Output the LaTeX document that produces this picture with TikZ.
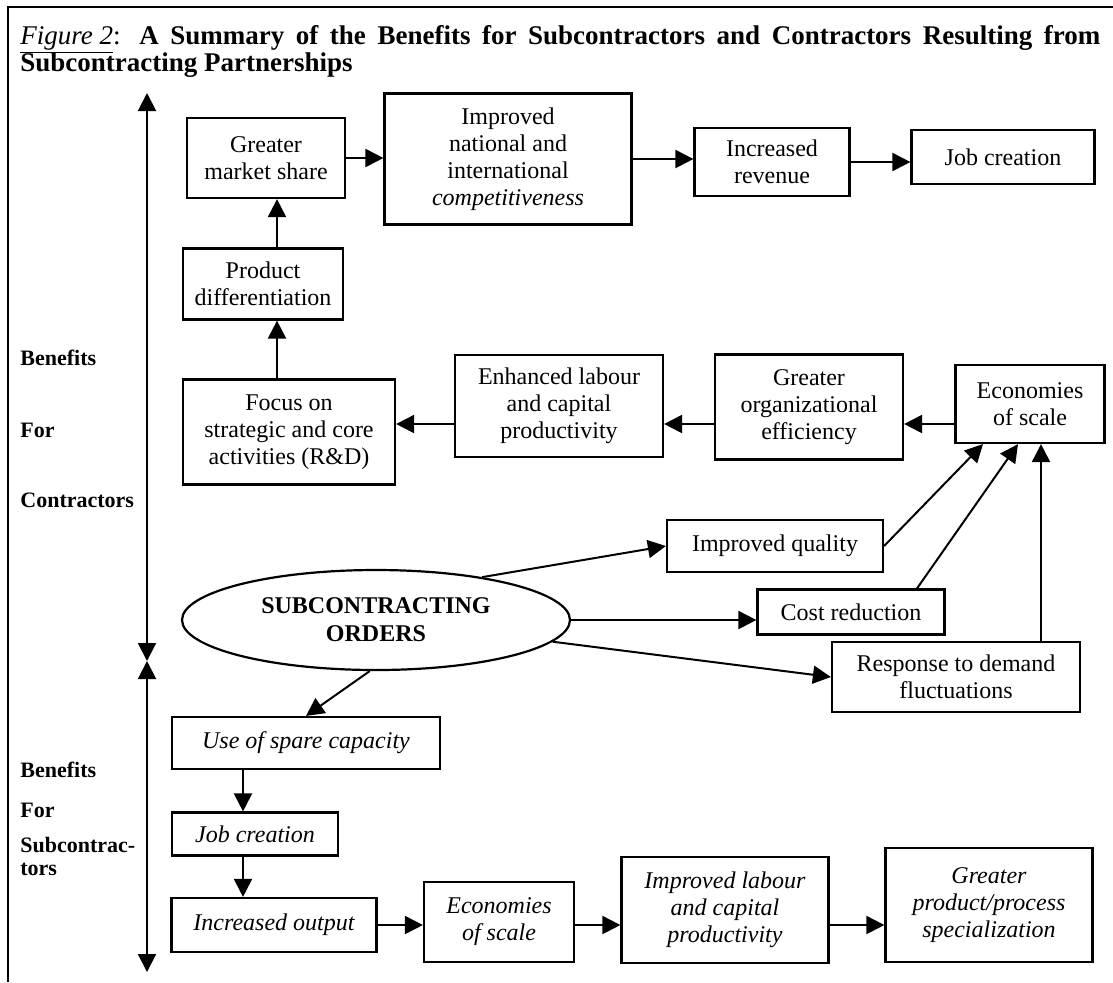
\documentclass[tikz,border=0pt]{standalone}
\usepackage{fontspec}
\setmainfont{Liberation Serif}
\usetikzlibrary{
  arrows.meta,
  positioning,
  calc,
  shapes.geometric
}

\begin{document}
\begin{tikzpicture}[
  x=0.5pt, y=-0.5pt,
  every node/.style={font=\fontsize{12}{13.5}\selectfont},
  box/.style={draw, line width=1.1pt, align=center, inner sep=0pt},
  ibox/.style={box, font=\fontsize{12}{13.5}\selectfont\itshape},
  sidelabel/.style={anchor=west, inner sep=0pt, align=left,
                    font=\fontsize{11}{11}\selectfont\bfseries},
  arr/.style={line width=1pt, -{Triangle[length=9pt,width=9pt]}},
  axis/.style={line width=1pt,
               {Triangle[length=9pt,width=9pt]}-{Triangle[length=9pt,width=9pt]}}
]
  \useasboundingbox (0,0) rectangle (1113,982);

  % frame and title
  \draw[line width=1pt] (8,982) -- (8,7) -- (1113,7);
  \node[anchor=base west, inner sep=0pt] (title1) at (20,44)
    {\makebox[540pt][s]{\fontsize{13.5}{14}\selectfont\underline{\textit{Figure 2}}:
      \textbf{A Summary of the Benefits for Subcontractors and Contractors Resulting from}}};
  \node[anchor=base west, inner sep=0pt] (title2) at (20,71)
    {\fontsize{13.5}{14}\selectfont\textbf{Subcontracting Partnerships}};

  % side axis
  \coordinate (axtop) at (147,93);
  \coordinate (axmid) at (147,661);
  \coordinate (axbot) at (147,972);
  \draw[axis] (axtop) -- (axmid);
  \draw[axis] (axmid) -- (axbot);

  \node[sidelabel] (benA) at (20,358) {Benefits};
  \node[sidelabel] (forA) at (20,430) {For};
  \node[sidelabel] (conA) at (20,500) {Contractors};
  \node[sidelabel] (benB) at (20,770) {Benefits};
  \node[sidelabel] (forB) at (20,810) {For};
  \node[sidelabel, font=\fontsize{11}{11.5}\selectfont\bfseries] (subB) at (20,856)
    {Subcontrac-\\tors};

  % benefits for contractors
  \node[box, minimum width=79pt, minimum height=40pt] (gms) at (266,158)
    {Greater\\market share};
  \node[box, minimum width=123.5pt, minimum height=65.5pt] (inic) at (508,159)
    {Improved\\national and\\international\\\textit{competitiveness}};
  \node[box, minimum width=77.5pt, minimum height=34pt] (irev) at (772,162)
    {Increased\\revenue};
  \node[box, minimum width=91.5pt, minimum height=27pt] (jobA) at (1003,157)
    {Job creation};
  \node[box, minimum width=80pt, minimum height=35.5pt] (pdiff) at (263,284)
    {Product\\differentiation};
  \node[box, minimum width=106pt, minimum height=52.5pt] (focus) at (289,432)
    {Focus on\\strategic and core\\activities (R\&D)};
  \node[box, minimum width=104pt, minimum height=51pt] (elcp) at (559,406)
    {Enhanced labour\\and capital\\productivity};
  \node[box, minimum width=94pt, minimum height=52.5pt] (goe) at (809,407)
    {Greater\\organizational\\efficiency};
  \node[box, minimum width=74.5pt, minimum height=39pt] (eosA) at (1030,404)
    {Economies\\of scale};
  \node[box, minimum width=108pt, minimum height=26pt] (iq) at (775,546)
    {Improved quality};
  \node[box, minimum width=93.5pt, minimum height=22.5pt] (cred) at (851,612)
    {Cost reduction};
  \node[box, minimum width=124pt, minimum height=35pt] (rdf) at (956,677)
    {Response to demand\\fluctuations};

  \node[draw, ellipse, line width=1.1pt, inner sep=0pt, minimum width=194pt,
        minimum height=50pt, align=center, font=\fontsize{12}{14}\selectfont\bfseries]
    (orders) at (376,620) {SUBCONTRACTING\\ORDERS};

  % benefits for subcontractors
  \node[ibox, minimum width=134pt, minimum height=26pt] (spare) at (306,743)
    {Use of spare capacity};
  \node[ibox, minimum width=83pt, minimum height=21.5pt] (jobB) at (255,834)
    {Job creation};
  \node[ibox, minimum width=102.5pt, minimum height=27pt] (iout) at (274,925)
    {Increased output};
  \node[ibox, minimum width=75pt, minimum height=40pt] (eosB) at (499,922)
    {Economies\\of scale};
  \node[ibox, minimum width=103.5pt, minimum height=53pt] (ilcp) at (725,910)
    {Improved labour\\and capital\\productivity};
  \node[ibox, minimum width=103.5pt, minimum height=57pt] (gpps) at (989,905)
    {Greater\\product/process\\specialization};

  % connectors
  \coordinate (colv) at (277,0);
  \coordinate (rowb) at (0,424);
  \coordinate (colw) at (243,0);

  \draw[arr] (gms.east) -- (gms.east -| inic.west);
  \draw[arr] (inic.east) -- (inic.east -| irev.west);
  \draw[arr] (irev.east) -- (irev.east -| jobA.west);
  \draw[arr] (focus.north -| colv) -- (pdiff.south -| colv);
  \draw[arr] (pdiff.north -| colv) -- (gms.south -| colv);
  \draw[arr] (eosA.west |- rowb) -- (goe.east |- rowb);
  \draw[arr] (goe.west |- rowb) -- (elcp.east |- rowb);
  \draw[arr] (elcp.west |- rowb) -- (focus.east |- rowb);

  \draw[arr] (orders.22) -- (iq.west);
  \draw[arr] (orders.east) -- (orders.east -| cred.west);
  \draw[arr] (orders.-7) -- (rdf.west);
  \draw[arr] (orders.-97) -- (spare.north);

  \draw[arr] (iq.east) -- ($(eosA.south)+(-47,0)$);
  \draw[arr] ($(cred.north)+(66,0)$) -- ($(eosA.south)+(-12,0)$);
  \draw[arr] ($(rdf.north)+(85,0)$) coordinate (rup) -- (rup |- eosA.south);

  \draw[arr] (spare.south -| colw) -- (jobB.north -| colw);
  \draw[arr] (jobB.south -| colw) -- (iout.north -| colw);
  \draw[arr] (iout.east) -- (iout.east -| eosB.west);
  \draw[arr] (eosB.east |- iout.east) -- (ilcp.west |- iout.east);
  \draw[arr] (ilcp.east |- iout.east) -- (gpps.west |- iout.east);

\end{tikzpicture}
\end{document}
